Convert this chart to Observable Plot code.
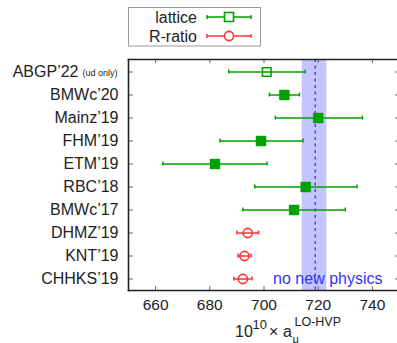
<!DOCTYPE html>
<html>
<head>
<meta charset="utf-8">
<script src="https://cdn.jsdelivr.net/npm/d3@7"></script>
<script src="https://cdn.jsdelivr.net/npm/@observablehq/plot@0.6"></script>
<style>
  html, body { margin: 0; padding: 0; background: #fff; }
  #chart { width: 397px; height: 343px; overflow: hidden; }
</style>
</head>
<body>
<div id="chart"></div>
<script>
// ---- data ----
const labels  = ["ABGP’22", "BMWc’20", "Mainz’19", "FHM’19", "ETM’19", "RBC’18", "BMWc’17", "DHMZ’19", "KNT’19", "CHHKS’19"];
const methods = ["lattice", "lattice", "lattice", "lattice", "lattice", "lattice", "lattice", "R-ratio", "R-ratio", "R-ratio"];
const centers = [701.0, 707.5, 720.0, 698.9, 681.9, 715.4, 711.1, 694.0, 692.8, 692.2];
const lows    = [687.0, 702.0, 704.2, 683.8, 662.7, 696.6, 692.2, 690.0, 690.4, 688.9];
const highs   = [715.2, 713.1, 736.3, 714.4, 701.1, 734.3, 730.0, 698.0, 695.2, 695.6];
const openMarker = [true, false, false, false, false, false, false, false, false, false];
const xTicks = [660, 680, 700, 720, 740];
const xDomain = [650, 750];
const bandLow = 714.1, bandHigh = 723.2, bandMid = 718.9;
const legendItems = ["lattice", "R-ratio"];

const green = "#00a000", red = "#ff3333", blue = "#3333ff";
const colorOf = m => m === "lattice" ? green : red;

const rows = labels.map((label, i) => ({
  label, method: methods[i], c: centers[i], lo: lows[i], hi: highs[i], open: openMarker[i]
}));

const W = 397, H = 343, mL = 128, mT = 59, mB = 53;
const frameH = H - mT - mB;
const font = "'Liberation Sans', Arial, Helvetica, sans-serif";
const FS = 16;

const plot = Plot.plot({
  width: W, height: H,
  marginLeft: mL, marginRight: 0, marginTop: mT, marginBottom: mB,
  style: { fontFamily: font, fontSize: FS + "px", color: "#222", background: "#fff" },
  x: { domain: xDomain, range: [mL, 399] },
  y: { type: "band", domain: labels, padding: 0 },
  marks: [
    // no-new-physics band and central line
    Plot.rectX([{ x1: bandLow, x2: bandHigh }], { x1: "x1", x2: "x2", fill: "#c4c4ff" }),
    Plot.ruleX([bandMid], { stroke: blue, strokeWidth: 1.3, strokeDasharray: "3,3.5" }),
    // error bars
    Plot.ruleY(rows, { y: "label", x1: "lo", x2: "hi", stroke: d => colorOf(d.method), strokeWidth: 1.5 }),
    Plot.tickX(rows, { x: "lo", y: "label", stroke: d => colorOf(d.method), strokeWidth: 1.5, insetTop: 9.5, insetBottom: 9.5 }),
    Plot.tickX(rows, { x: "hi", y: "label", stroke: d => colorOf(d.method), strokeWidth: 1.5, insetTop: 9.5, insetBottom: 9.5 }),
    // lattice filled squares
    Plot.dot(rows.filter(d => d.method === "lattice" && !d.open), { x: "c", y: "label", symbol: "square", r: 5.6, fill: green, stroke: green, strokeWidth: 0.5 }),
    // lattice open square
    Plot.dot(rows.filter(d => d.method === "lattice" && d.open), { x: "c", y: "label", symbol: "square", r: 4.8, fill: "none", stroke: green, strokeWidth: 1.6 }),
    // R-ratio open circles
    Plot.dot(rows.filter(d => d.method === "R-ratio"), { x: "c", y: "label", symbol: "circle", r: 4.6, fill: "none", stroke: red, strokeWidth: 1.6 }),
    // "no new physics"
    Plot.text(["no new physics"], { y: () => labels[labels.length - 1], text: d => d, frameAnchor: "right", dx: -15, textAnchor: "end", fill: blue, fontSize: FS }),
    // ticks (inward)
    Plot.ruleX(xTicks, { stroke: "#666", strokeWidth: 1, insetBottom: frameH - 4 }),
    Plot.ruleX(xTicks, { stroke: "#666", strokeWidth: 1, insetTop: frameH - 4 }),
    Plot.axisY({ anchor: "left", tickSize: -5, text: null, label: null, stroke: "#666" }),
    Plot.axisY({ anchor: "right", tickSize: -3, text: null, label: null, stroke: "#666" }),
    // y labels
    Plot.text(labels.filter((d, i) => i > 0), { y: d => d, text: d => d, frameAnchor: "left", textAnchor: "end", dx: -10, fontSize: FS, fill: "#222" }),
    Plot.text(labels.filter((d, i) => i === 0), { y: d => d, text: d => d, frameAnchor: "left", textAnchor: "end", dx: -50, fontSize: FS, fill: "#222" }),
    Plot.text(labels.filter((d, i) => i === 0), { y: d => d, text: () => "(ud only)", frameAnchor: "left", textAnchor: "end", dx: -11, dy: 1.5, fontSize: 9, fill: "#222" }),
    // x tick labels
    Plot.axisX(xTicks, { anchor: "bottom", tickSize: 0, tickPadding: 8, fontSize: 15.5, label: null }),
    // frame
    Plot.frame({ anchor: "top", stroke: "#222", strokeWidth: 1.6 }),
    Plot.frame({ anchor: "bottom", stroke: "#222", strokeWidth: 1.6 }),
    Plot.frame({ anchor: "left", stroke: "#222", strokeWidth: 1.6 })
  ]
});

document.getElementById("chart").appendChild(plot);

// ---- axis title and legend drawn onto the same svg ----
const svg = d3.select(plot);
const g = svg.append("g").attr("font-family", font).attr("fill", "#222").attr("text-anchor", "start");
g.append("text").attr("x", 235).attr("y", 337).attr("font-size", FS).text("10");
g.append("text").attr("x", 252.5).attr("y", 329).attr("font-size", 13).text("10");
g.append("text").attr("x", 269).attr("y", 337).attr("font-size", FS).text("×");
g.append("text").attr("x", 283).attr("y", 337).attr("font-size", FS).text("a");
g.append("text").attr("x", 292.5).attr("y", 342.5).attr("font-size", 11).text("μ");
g.append("text").attr("x", 294.5).attr("y", 325.5).attr("font-size", 12.5).text("LO-HVP");

// legend
const lg = svg.append("g").attr("font-family", font);
lg.append("rect").attr("x", 128.5).attr("y", 7.5).attr("width", 132).attr("height", 38.5)
  .attr("fill", "#fff").attr("stroke", "#999").attr("stroke-width", 1);
legendItems.forEach((name, i) => {
  const yy = 17 + i * 19;
  const col = colorOf(name);
  lg.append("text").attr("x", 197).attr("y", yy + 5.5).attr("text-anchor", "end")
    .attr("font-size", FS).attr("fill", "#222").text(name);
  lg.append("line").attr("x1", 207).attr("x2", 251).attr("y1", yy).attr("y2", yy)
    .attr("stroke", col).attr("stroke-width", 1.5);
  [207, 251].forEach(xx => lg.append("line").attr("x1", xx).attr("x2", xx)
    .attr("y1", yy - 2).attr("y2", yy + 2).attr("stroke", col).attr("stroke-width", 1.5));
  if (name === "lattice") {
    lg.append("rect").attr("x", 224.5).attr("y", yy - 4.5).attr("width", 9).attr("height", 9)
      .attr("fill", "#fff").attr("stroke", col).attr("stroke-width", 1.6);
  } else {
    lg.append("circle").attr("cx", 229).attr("cy", yy).attr("r", 4.6)
      .attr("fill", "#fff").attr("stroke", col).attr("stroke-width", 1.6);
  }
});
</script>
</body>
</html>
